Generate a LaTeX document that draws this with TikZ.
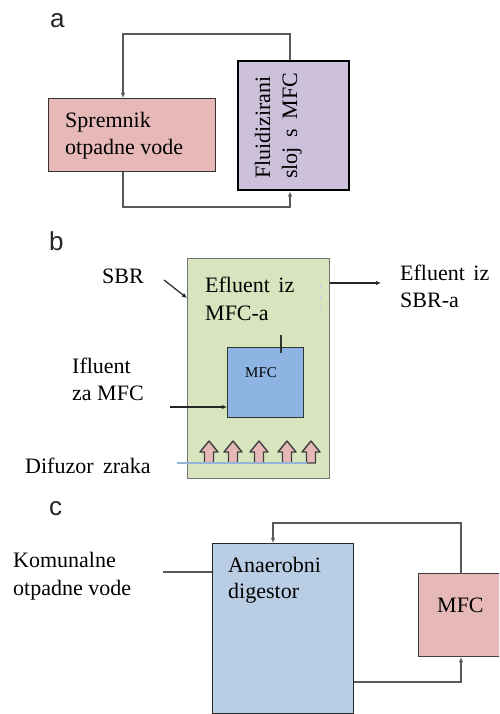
\documentclass[tikz,border=0pt]{standalone}
\usepackage{fontspec}
\setmainfont{Liberation Serif}
\newfontfamily\lblfont{Liberation Sans}
\usetikzlibrary{arrows.meta}
\definecolor{pinkf}{HTML}{E6B9B8}
\definecolor{purplef}{HTML}{CCC0DA}
\definecolor{greenf}{HTML}{D7E4BD}
\definecolor{bluef}{HTML}{8EB4E3}
\definecolor{lbluef}{HTML}{B9CDE5}
\definecolor{linegray}{HTML}{595959}
\definecolor{diffblue}{HTML}{95B3D7}
\begin{document}
\begin{tikzpicture}[x=1pt,y=-1pt,
  box/.style={draw=#1, line width=1.3pt, inner sep=0pt, anchor=north west},
  txt/.style={font=\fontsize{22}{26}\selectfont, inner sep=0pt, anchor=base west, text=black},
  smalltxt/.style={font=\fontsize{15}{18}\selectfont, inner sep=0pt, anchor=base west},
  lbl/.style={font=\lblfont\fontsize{26}{30}\selectfont, inner sep=0pt, anchor=base west, text=black!85},
  conn/.style={draw=linegray, line width=1.4pt},
  tip/.tip={Latex[length=5pt,width=4.5pt]},
  ptr/.style={draw=black!85, line width=1.2pt, -{Latex[length=5pt,width=4.5pt]}},
  blockarrow/.style={fill=pinkf, draw=black!75, line width=1.4pt, line join=round},
]
\useasboundingbox (0,0) rectangle (499,714);
\clip (0,0) rectangle (499,714);

% ---------------- panel a ----------------
\node[lbl] (la) at (50,28) {a};
\node[box=black!80, fill=pinkf, minimum width=167pt, minimum height=73pt] (tank) at (48,98) {};
\node[txt] (tank1) at (65,128) {Spremnik};
\node[txt] (tank2) at (65,155) {otpadne vode};
\node[box=black, line width=2.4pt, fill=purplef, minimum width=111pt, minimum height=129pt] (fluid) at (237,60) {};
\node[txt, rotate=90] (fl1) at (270,179) {Fluidizirani};
\node[txt, rotate=90] (fl2) at (297,179) {sloj\hspace{4pt} s\hspace{4pt} MFC};
\coordinate (ax) at (123,34);
\coordinate (axr) at (290,207);
\draw[conn, -tip] (fluid.north -| axr) |- (ax) -- (tank.north -| ax);
\draw[conn, -tip] (tank.south -| ax) |- (axr) -- (fluid.south -| axr);

% ---------------- panel b ----------------
\node[lbl] (lb) at (49,250) {b};
\node[box=black!55, fill=greenf, minimum width=142pt, minimum height=220pt] (green) at (187,258) {};
\node[txt] (sbr) at (102,283) {SBR};
\coordinate (sbrp) at (164,280);
\coordinate (sbrq) at (187,298);
\draw[ptr] (sbrp) -- (sbrq);
\node[txt] (ef1) at (205,292) {Efluent\hspace{3pt} iz};
\node[txt] (ef2) at (205,320) {MFC-a};
\draw[draw=diffblue!60, line width=0.8pt, dash pattern=on 4pt off 6pt] (320,285) -- (320,313);
\coordinate (effl) at (381,283);
\draw[ptr] (green.east |- effl) -- (effl);
\node[txt] (efs1) at (400,280) {Efluent\hspace{3pt} iz};
\node[txt] (efs2) at (400,307) {SBR-a};
\node[box=black!80, fill=bluef, minimum width=76pt, minimum height=70pt] (mfcb) at (227,347) {};
\node[smalltxt] (mfcbt) at (245,377) {MFC};
\coordinate (tick) at (281,335);
\draw[draw=black!80, line width=1.2pt] (tick) -- ([yshift=-6pt]mfcb.north -| tick);
\node[txt] (if1) at (72,373) {Ifluent};
\node[txt] (if2) at (72,400) {za MFC};
\coordinate (ifl) at (170,407);
\draw[ptr] (ifl) -- (mfcb.west |- ifl);
\draw[draw=diffblue, line width=1.4pt] (177,463) -- (307,463);
\foreach \cx in {209,233,259,287,311}{
  \draw[blockarrow] ({\cx-4.5},463) -- ({\cx-4.5},452) -- ({\cx-9},452) -- (\cx,441) -- ({\cx+9},452) -- ({\cx+4.5},452) -- ({\cx+4.5},463) -- cycle;
}
\draw[draw=diffblue, line width=1.4pt] (177,463) -- (307,463);
\node[txt] (dif) at (25,473) {Difuzor\hspace{4pt} zraka};

% ---------------- panel c ----------------
\node[lbl] (lc) at (49,515) {c};
\node[box=black!85, fill=lbluef, minimum width=141pt, minimum height=170pt] (ad) at (212,543) {};
\node[txt] (ad1) at (228,572) {Anaerobni};
\node[txt] (ad2) at (228,598) {digestor};
\node[txt] (ko1) at (13,567) {Komunalne};
\node[txt] (ko2) at (13,595) {otpadne vode};
\coordinate (kin) at (163,572);
\draw[conn] (kin) -- (ad.west |- kin);
\node[box=black!75, fill=pinkf, minimum width=100pt, minimum height=83pt] (mfcc) at (418,573) {};
\node[txt] (mfcct) at (437,612) {MFC};
\coordinate (ct) at (273,523);
\coordinate (cx) at (461,682);
\draw[conn, -tip] (mfcc.north -| cx) |- (ct) -- (ad.north -| ct);
\draw[conn, -tip] (ad.east |- cx) -- (cx) -- (mfcc.south -| cx);
\end{tikzpicture}
\end{document}
